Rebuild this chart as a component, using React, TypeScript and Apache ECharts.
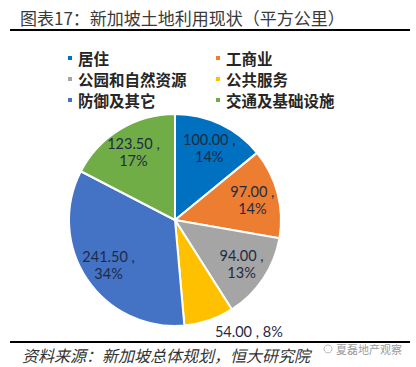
import React, { useEffect, useRef } from 'react';
import * as echarts from 'echarts';

const categories = ['居住', '工商业', '公园和自然资源', '公共服务', '防御及其它', '交通及基础设施'];
const values = [100, 97, 94, 54, 241.5, 123.5];
const colors = ['#0070C0', '#ED7D31', '#A5A5A5', '#FFC000', '#4472C4', '#70AD47'];
const legendLeft = ['居住', '公园和自然资源', '防御及其它'];
const legendRight = ['工商业', '公共服务', '交通及基础设施'];
const outsideLabels = ['公共服务'];
const titleText = '图表17：新加坡土地利用现状（平方公里）';
const sourceText = '资料来源：新加坡总体规划，恒大研究院';
const watermarkText = '夏磊地产观察';

const CX = 175;
const CY = 220;
const R = 106;

export default function App() {
  const ref = useRef<HTMLDivElement>(null);
  useEffect(() => {
    if (!ref.current) return;
    const chart = echarts.init(ref.current, undefined, { renderer: 'svg' });
    const fmt = (p: any) => {
      const outside = outsideLabels.includes(p.name);
      return `${Number(p.value).toFixed(2)} ,${outside ? ' ' : '\n'}${Math.round(p.percent)}%`;
    };
    const visibleData = categories.map((name, i) => ({
      name,
      value: values[i],
      itemStyle: { color: colors[i] },
    }));
    const labelData = categories.map((name, i) => {
      const outside = outsideLabels.includes(name);
      return {
        name,
        value: values[i],
        label: outside
          ? { position: 'outside', distanceToLabelLine: 2 }
          : { position: 'inside' },
        labelLine: { show: false, length: 12, length2: 0 },
      };
    });
    const legendCommon = {
      orient: 'vertical' as const,
      top: 45,
      icon: 'rect',
      itemWidth: 6,
      itemHeight: 6,
      itemGap: 5,
      selectedMode: false,
      textStyle: {
        fontFamily: 'Noto Sans CJK SC',
        fontSize: 15.5,
        fontWeight: 'bold' as const,
        color: '#262626',
        lineHeight: 16,
      },
    };
    chart.setOption({
      animation: false,
      backgroundColor: '#ffffff',
      legend: [
        { ...legendCommon, left: 61, data: legendLeft },
        { ...legendCommon, left: 209, data: legendRight },
      ],
      graphic: [
        {
          type: 'text',
          x: 20,
          y: 17,
          style: {
            text: titleText,
            fontFamily: 'Noto Sans CJK SC',
            fontSize: 17,
            fill: '#3a3a3a',
            textVerticalAlign: 'middle',
          },
        },
        { type: 'line', shape: { x1: 10, y1: 30, x2: 410, y2: 30 }, style: { stroke: '#000', lineWidth: 2 } },
        { type: 'line', shape: { x1: 10, y1: 342, x2: 410, y2: 342 }, style: { stroke: '#000', lineWidth: 2 } },
        {
          type: 'text',
          x: 22,
          y: 355,
          style: {
            text: sourceText,
            fontFamily: 'Noto Sans CJK SC',
            fontSize: 16,
            fontStyle: 'italic',
            fill: '#333',
            textVerticalAlign: 'middle',
          },
        },
        {
          type: 'text',
          x: 336,
          y: 349,
          style: {
            text: watermarkText,
            fontFamily: 'Noto Sans CJK SC',
            fontSize: 11,
            fill: '#9a9a9a',
            textVerticalAlign: 'middle',
          },
        },
        { type: 'circle', shape: { cx: 328, cy: 349, r: 4 }, style: { fill: 'none', stroke: '#bbb', lineWidth: 1 } },
      ],
      series: [
        {
          type: 'pie',
          center: [CX, CY],
          radius: [0, R],
          startAngle: 90,
          clockwise: true,
          data: visibleData,
          label: { show: false },
          labelLine: { show: false },
          itemStyle: { borderColor: '#ffffff', borderWidth: 2 },
          emphasis: { disabled: true },
          silent: true,
        },
        {
          type: 'pie',
          center: [CX, CY],
          radius: [48, R],
          startAngle: 90,
          clockwise: true,
          data: labelData,
          itemStyle: { color: 'rgba(0,0,0,0)', borderWidth: 0 },
          label: {
            show: true,
            formatter: fmt,
            fontFamily: 'Lato',
            fontSize: 14.5,
            lineHeight: 17,
            color: '#1f2a44',
          },
          emphasis: { disabled: true },
          silent: true,
        },
      ],
    });
    return () => chart.dispose();
  }, []);
  return <div ref={ref} style={{ position: 'fixed', left: 0, top: 0, width: 416, height: 367 }} />;
}
